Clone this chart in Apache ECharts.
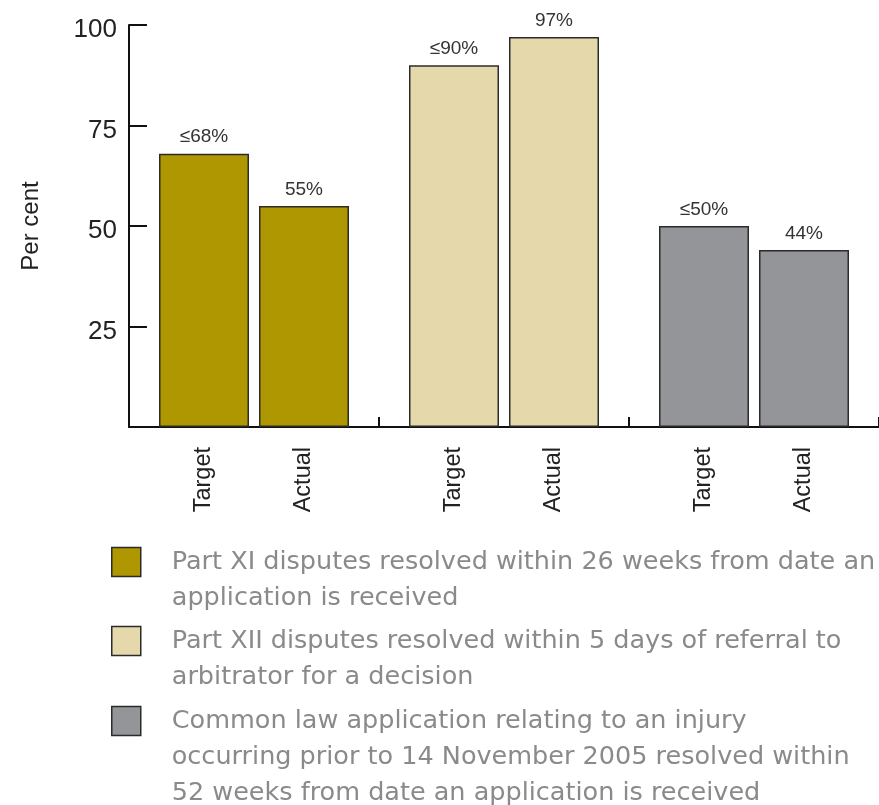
<!DOCTYPE html>
<html>
<head>
<meta charset="utf-8">
<script src="https://cdn.jsdelivr.net/npm/echarts@6/dist/echarts.min.js"></script>
<style>
  html, body { margin: 0; padding: 0; background: #ffffff; }
  #chart { width: 879px; height: 805px; }
</style>
</head>
<body>
<div id="chart"></div>
<script>
// Measures reported against their targets, one colour per measure
const measures = [
  'Part XI disputes resolved within 26 weeks from date an\napplication is received',
  'Part XII disputes resolved within 5 days of referral to\narbitrator for a decision',
  'Common law application relating to an injury\noccurring prior to 14 November 2005 resolved within\n52 weeks from date an application is received'
];
const barRoles = ['Target', 'Actual'];
const targetValues = [68, 90, 50];
const actualValues = [55, 97, 44];
const measureColors = ['#AE9700', '#E5D9AB', '#949599'];
const yTicks = [0, 25, 50, 75, 100];

const axisFont = '"Liberation Sans", Arial, Helvetica, sans-serif';
const legendFont = '"DejaVu Sans", sans-serif';
const legendLineHeight = 36;
const legendCenters = [562, 641, 721];

const valuesByRole = { Target: targetValues, Actual: actualValues };

// One series per measure and role; each role shares a stack so every
// category shows a Target bar beside an Actual bar.
const series = [];
measures.forEach(function (name, g) {
  barRoles.forEach(function (role) {
    const data = measures.map(function (_, i) {
      return i === g ? valuesByRole[role][g] : '-';
    });
    series.push({
      type: 'bar',
      name: name,
      stack: role,
      data: data,
      barWidth: 90,
      barGap: '11.11%',
      itemStyle: { color: measureColors[g], borderColor: '#2b2b2b', borderWidth: 1.5 },
      label: {
        show: true,
        position: 'top',
        distance: 7,
        fontFamily: axisFont,
        fontSize: 19,
        color: '#333333',
        formatter: role === 'Target' ? '\u2264{c}%' : '{c}%'
      },
      emphasis: { disabled: true }
    });
  });
});

// A legend block per measure. The text is vertically centred on the icon,
// so blank lines are put in front to bring the first line level with it.
const legends = measures.map(function (name, i) {
  const lines = name.split('\n').length;
  const half = (2 * lines - 1) * legendLineHeight / 2;
  const lead = new Array(lines).join('\n');
  return {
    show: true,
    orient: 'vertical',
    left: 111,
    top: legendCenters[i] - half,
    padding: 0,
    itemGap: 0,
    itemWidth: 29,
    itemHeight: 29,
    icon: 'rect',
    selectedMode: false,
    itemStyle: { borderColor: '#2b2b2b', borderWidth: 1.5 },
    formatter: function (n) { return lead + n; },
    textStyle: {
      fontFamily: legendFont,
      fontSize: 25.5,
      color: '#8a8a8a',
      lineHeight: legendLineHeight,
      padding: [0, 0, 0, 26]
    },
    data: [name]
  };
});

const chart = echarts.init(document.getElementById('chart'), null, { renderer: 'canvas' });
chart.setOption({
  animation: false,
  backgroundColor: '#ffffff',
  grid: { left: 129, right: 0, top: 25, bottom: 378, containLabel: false },
  legend: legends,
  xAxis: {
    type: 'category',
    data: measures,
    axisLine: { show: true, lineStyle: { color: '#111111', width: 2 } },
    axisTick: { show: true, inside: true, length: 10, lineStyle: { color: '#111111', width: 2 } },
    axisLabel: {
      rotate: 90,
      margin: 20,
      fontFamily: axisFont,
      fontSize: 23.5,
      color: '#222222',
      lineHeight: 100,
      formatter: function () { return barRoles.join('\n'); }
    },
    splitLine: { show: false }
  },
  yAxis: {
    type: 'value',
    min: yTicks[0],
    max: yTicks[yTicks.length - 1],
    interval: yTicks[1] - yTicks[0],
    name: 'Per cent',
    nameLocation: 'middle',
    nameRotate: 90,
    nameGap: 86,
    nameTextStyle: { fontFamily: axisFont, fontSize: 24, color: '#222222' },
    axisLine: { show: true, lineStyle: { color: '#111111', width: 2 } },
    axisTick: { show: true, inside: true, length: 18, lineStyle: { color: '#111111', width: 2 } },
    axisLabel: {
      showMinLabel: false,
      margin: 12,
      fontFamily: axisFont,
      fontSize: 26,
      color: '#222222',
      formatter: '{v|{value}}',
      rich: { v: { fontFamily: axisFont, fontSize: 26, color: '#222222', padding: [10, 0, 0, 0] } }
    },
    splitLine: { show: false }
  },
  series: series
});
</script>
</body>
</html>
